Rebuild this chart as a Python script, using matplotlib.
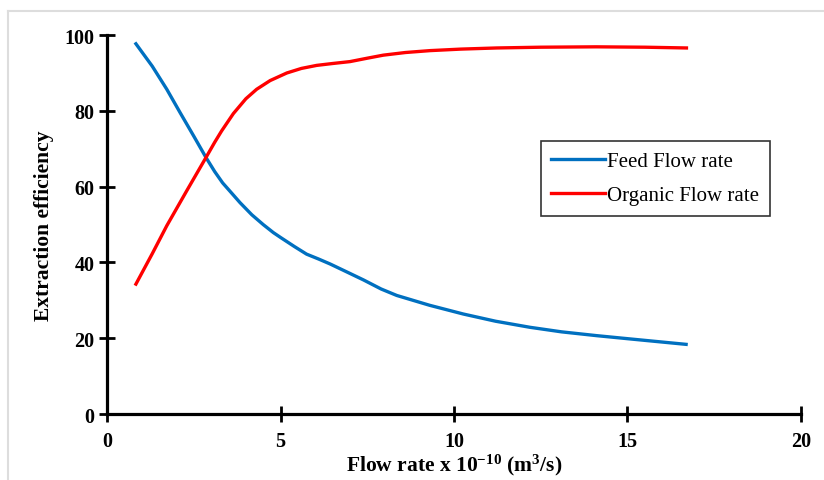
import matplotlib
matplotlib.use("Agg")
import matplotlib.pyplot as plt
from matplotlib.lines import Line2D

# Values
feed_x = [0.83, 1.3, 1.72, 2.1, 2.5, 2.85, 3.1, 3.33, 3.6, 3.83, 4.17, 4.5, 4.79,
          5.0, 5.4, 5.75, 6.1, 6.43, 6.98, 7.39, 7.9, 8.35, 9.3, 10.27, 11.2,
          12.19, 13.1, 14.11, 15.0, 15.9, 16.69]
feed_y = [97.7, 91.8, 85.7, 79.6, 73.3, 67.7, 64.0, 61.0, 58.2, 55.8, 52.6, 50.0,
          47.9, 46.6, 44.2, 42.2, 40.9, 39.6, 37.2, 35.4, 33.0, 31.3, 28.7, 26.4,
          24.5, 22.9, 21.7, 20.7, 19.9, 19.1, 18.4]

org_x = [0.83, 1.3, 1.72, 2.3, 2.85, 3.1, 3.3, 3.64, 4.0, 4.31, 4.7, 5.18, 5.6,
         6.04, 6.5, 7.0, 7.5, 7.96, 8.6, 9.31, 10.2, 11.23, 12.5, 14.1, 15.5, 16.7]
org_y = [34.3, 42.3, 49.7, 59.0, 67.7, 71.7, 74.7, 79.3, 83.2, 85.7, 88.0, 90.0,
         91.2, 92.0, 92.5, 93.0, 93.9, 94.7, 95.4, 95.9, 96.3, 96.6, 96.8, 96.9,
         96.8, 96.6]

x_ticks = [0, 5, 10, 15, 20]
y_ticks = [0, 20, 40, 60, 80, 100]

plt.rcParams['font.family'] = ['Liberation Serif', 'DejaVu Serif']
plt.rcParams['mathtext.fontset'] = 'custom'
plt.rcParams['mathtext.bf'] = 'Liberation Serif:bold'
plt.rcParams['mathtext.rm'] = 'Liberation Serif:bold'
plt.rcParams['mathtext.it'] = 'Liberation Serif:bold'

fig = plt.figure(figsize=(8.24, 4.81), dpi=100)
ax = fig.add_axes([0.130, 0.137, 0.842, 0.788])

ax.plot(feed_x, feed_y, color='#0070C0', lw=2.4, label='Feed Flow rate',
        solid_joinstyle='round')
ax.plot(org_x, org_y, color='#FF0000', lw=2.4, label='Organic Flow rate',
        solid_joinstyle='round')

ax.set_xlim(0, 20)
ax.set_ylim(0, 100)
ax.set_xticks(x_ticks)
ax.set_yticks(y_ticks)

for side in ['top', 'right']:
    ax.spines[side].set_visible(False)
for side in ['left', 'bottom']:
    ax.spines[side].set_linewidth(2.3)
    ax.spines[side].set_color('black')

ax.tick_params(direction='inout', length=12, width=2.0, labelsize=14.5, pad=3)
ax.tick_params(axis='x', pad=6)
for lab in ax.get_xticklabels() + ax.get_yticklabels():
    lab.set_fontweight('bold')

ax.set_xlabel('Flow rate x 10$^{-10}$ (m$^{3}$/s)', fontsize=15.5,
              fontweight='bold', labelpad=1)
ax.set_ylabel('Extraction efficiency', fontsize=15.5, fontweight='bold', labelpad=8)

leg = ax.legend(loc='upper left', bbox_to_anchor=(0.625, 0.72), fontsize=15,
                frameon=True, fancybox=False, edgecolor='black', handlelength=2.6,
                handletextpad=0.1, borderpad=0.5, labelspacing=0.7,
                borderaxespad=0)
leg.get_frame().set_linewidth(1.2)

# thin grey frame along top and left of the figure
fig.add_artist(Line2D([8 / 824, 1.0], [1 - 11.5 / 481] * 2, color='#dddddd', lw=1.5,
                      transform=fig.transFigure))
fig.add_artist(Line2D([8 / 824] * 2, [0, 1 - 11.5 / 481], color='#dddddd', lw=1.5,
                      transform=fig.transFigure))

fig.savefig('out.png', dpi=100)
